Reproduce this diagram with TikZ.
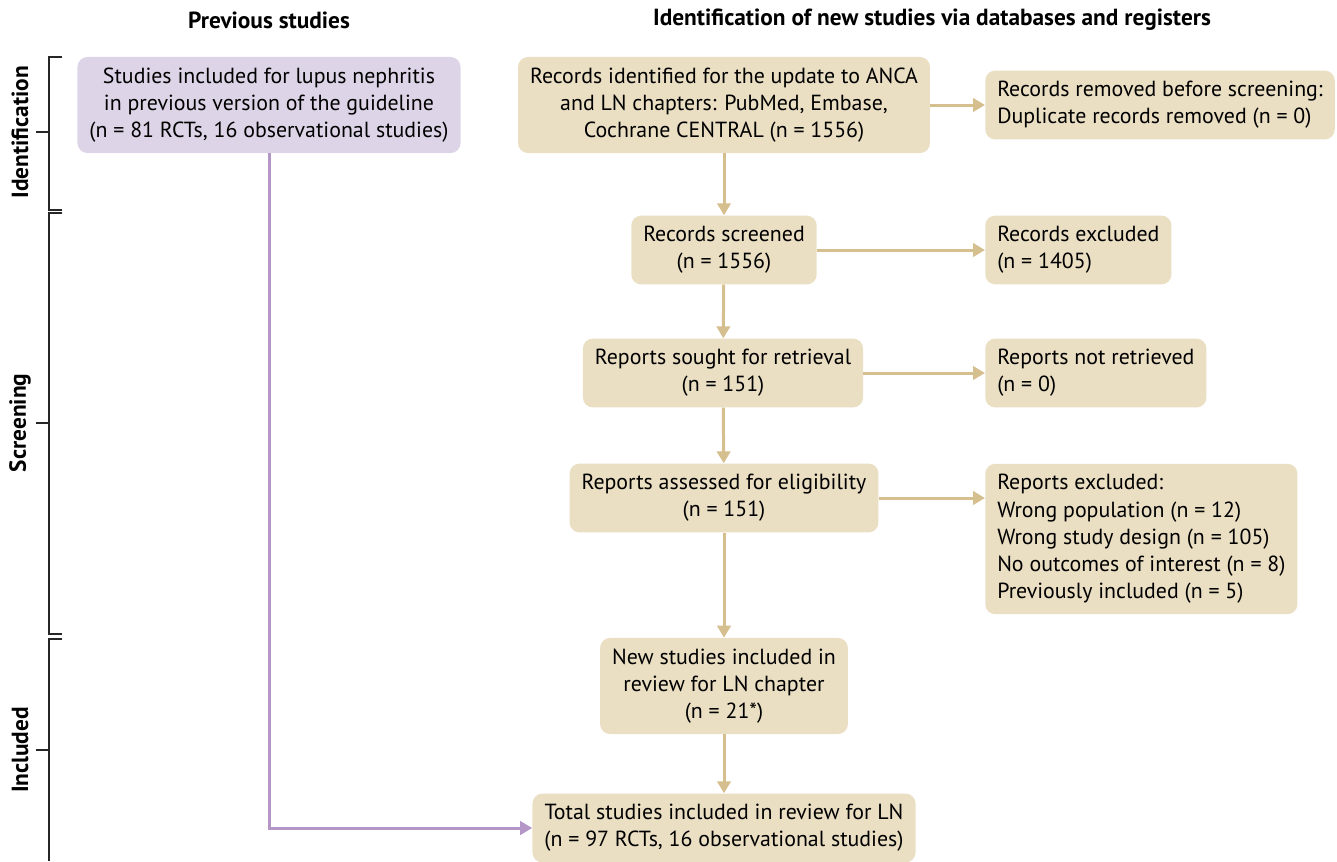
\documentclass[tikz,border=0pt]{standalone}
\usepackage{fontspec}
\setmainfont{PT Sans}
\usetikzlibrary{positioning,arrows.meta}
\definecolor{tanfill}{HTML}{EADEC3}
\definecolor{tanline}{HTML}{D6BF8E}
\definecolor{lilacfill}{HTML}{DDD5E7}
\definecolor{lilacline}{HTML}{B497C6}

\begin{document}
\begin{tikzpicture}[x=0.75pt,y=-0.75pt,font=\fontsize{16.4}{20.4}\selectfont,
		box/.style={fill=tanfill,rounded corners=7.5pt,inner xsep=9pt,inner ysep=8pt,align=left},
		midbox/.style={box,align=center},
		prevbox/.style={midbox,fill=lilacfill,minimum width=283pt},
		flow/.style={draw=tanline,line width=2.25pt,-{Triangle[length=9pt,width=10pt]}},
		prevflow/.style={draw=lilacline,line width=2.25pt,-{Triangle[length=9pt,width=10pt]}},
		bracket/.style={draw=black!85,line width=1.1pt},
		header/.style={font=\fontsize{17.5}{21}\selectfont\bfseries},
		phase/.style={rotate=90,font=\fontsize{17.5}{21}\selectfont\bfseries}]
		\useasboundingbox (0,0) rectangle (1337,861);
		% headers
		\node[header] (hprev) at (269,20) {Previous studies};
		\node[header] (hnew) at (932,20) {Identification of new studies via databases and registers};
		% phase brackets
		\draw[bracket] (62,57) -- (49,57) -- (49,210) -- (62,210);
		\draw[bracket] (36,132) -- (49,132);
		\draw[bracket] (62,213) -- (49,213) -- (49,634) -- (62,634);
		\draw[bracket] (36,423) -- (49,423);
		\draw[bracket] (62,639) -- (49,639) -- (49,861);
		\draw[bracket] (36,750) -- (49,750);
		\node[phase] (pid) at (20,132) {Identification};
		\node[phase] (pscr) at (20,423) {Screening};
		\node[phase] (pinc) at (20,750) {Included};
		% boxes
		\node[prevbox] (prev) at (269,105) {Studies included for lupus nephritis\\in previous version of the guideline\\(n = 81 RCTs, 16 observational studies)};
		\node[midbox] (ident) at (724,105) {Records identified for the update to ANCA\\and LN chapters: PubMed, Embase,\\Cochrane CENTRAL (n = 1556)};
		\node[box,anchor=west] (removed) at (985,105) {Records removed before screening:\\Duplicate records removed (n = 0)};
		\node[midbox] (screened) at (724,250) {Records screened\\(n = 1556)};
		\node[box,anchor=west] (excl) at (985,250) {Records excluded\\(n = 1405)};
		\node[midbox] (sought) at (723,373) {Reports sought for retrieval\\(n = 151)};
		\node[box,anchor=west] (notret) at (985,373) {Reports not retrieved\\(n = 0)};
		\node[midbox] (assessed) at (724,498) {Reports assessed for eligibility\\(n = 151)};
		\node[box,anchor=west] (repexcl) at (985,539) {Reports excluded:\\Wrong population (n = 12)\\Wrong study design (n = 105)\\No outcomes of interest (n = 8)\\Previously included (n = 5)};
		\node[midbox] (newst) at (724,686) {New studies included in\\review for LN chapter\\(n = 21*)};
		\node[midbox] (total) at (724,828) {Total studies included in review for LN\\(n = 97 RCTs, 16 observational studies)};
		% connectors
		\draw[flow] (ident) -- (removed);
		\draw[flow] (ident) -- (screened);
		\draw[flow] (screened) -- (excl);
		\draw[flow] (screened) -- (sought);
		\draw[flow] (sought) -- (notret);
		\draw[flow] (sought) -- (assessed);
		\draw[flow] (assessed) -- (repexcl.west |- assessed);
		\draw[flow] (assessed) -- (newst);
		\draw[flow] (newst) -- (total);
		\draw[prevflow] (prev.south) |- (total.west);
	\end{tikzpicture}
\end{document}
